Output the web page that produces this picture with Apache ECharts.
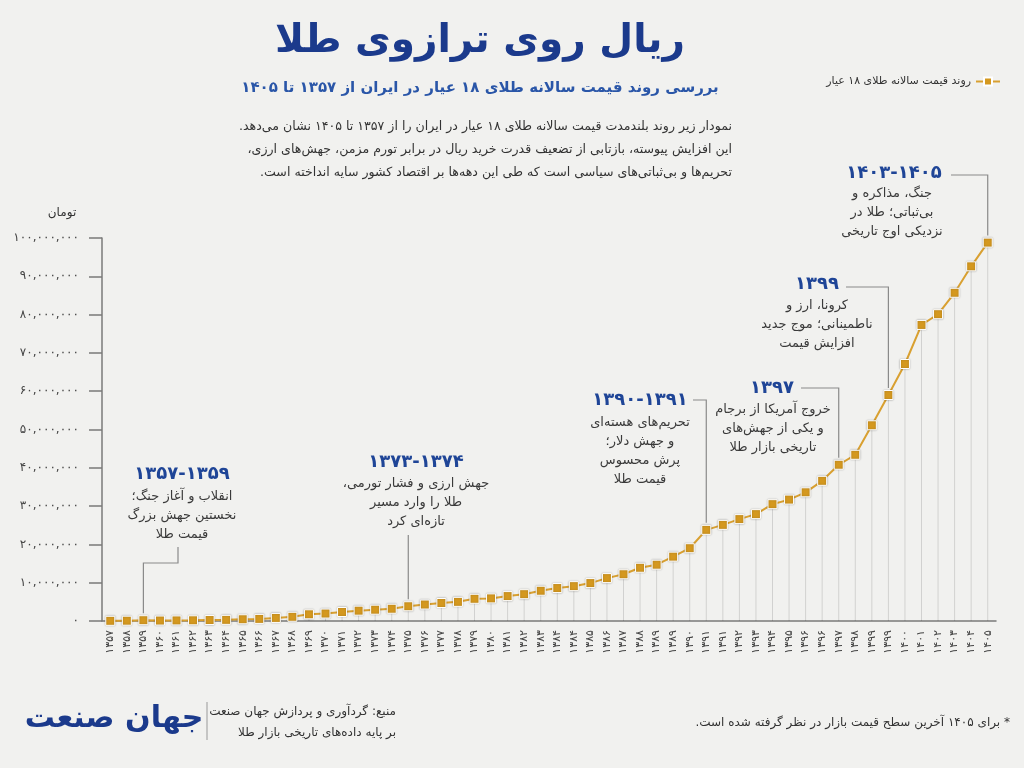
<!DOCTYPE html>
<html>
<head>
<meta charset="utf-8">
<script src="https://cdn.jsdelivr.net/npm/echarts@6/dist/echarts.min.js"></script>
<style>
  html, body { margin: 0; padding: 0; background: #f1f1ef; }
  #main { width: 1024px; height: 768px; direction: rtl; }
</style>
</head>
<body>
<div id="main"></div>
<script>
// سال‌ها همان‌طور که روی محور دیده می‌شوند
const years = [1357, 1358, 1359, 1360, 1361, 1362, 1363, 1364, 1365, 1366, 1367, 1368, 1369, 1370,
  1371, 1372, 1373, 1374, 1375, 1376, 1377, 1378, 1379, 1380, 1381, 1382, 1383,
  1384, 1384, 1385, 1386, 1387, 1388, 1389, 1389, 1390, 1391, 1391, 1392, 1393, 1394,
  1395, 1396, 1396, 1397, 1398, 1399, 1399, 1400, 1401, 1402, 1403, 1404, 1405]

// قیمت سالانه طلای ۱۸ عیار (میلیون تومان)
const priceMillion = [0.05, 0.08, 0.2, 0.12, 0.15, 0.18, 0.25, 0.3, 0.45, 0.55, 0.8, 1.1, 1.75, 1.95,
  2.35, 2.7, 2.95, 3.2, 3.85, 4.3, 4.7, 5.0, 5.8, 5.9, 6.5, 7.0, 7.9,
  8.6, 9.1, 9.9, 11.2, 12.2, 13.9, 14.7, 16.8, 19.0, 23.8, 25.1, 26.6, 27.9, 30.5,
  31.7, 33.6, 36.6, 40.8, 43.4, 51.1, 59.0, 67.1, 77.3, 80.1, 85.7, 92.6, 98.8]

const yTicks = {min: 0, max: 100000000, interval: 10000000}

// رویدادها: اندیس نقطه، عنوان، متن
const eventIdx = [2, 18, 36, 44, 47, 53]
const eventYears = ['۱۳۵۷-۱۳۵۹', '۱۳۷۳-۱۳۷۴', '۱۳۹۰-۱۳۹۱', '۱۳۹۷', '۱۳۹۹', '۱۴۰۳-۱۴۰۵']
const eventTexts = [
  'انقلاب و آغاز جنگ؛\nنخستین جهش بزرگ\nقیمت طلا',
  'جهش ارزی و فشار تورمی،\nطلا را وارد مسیر\nتازه‌ای کرد',
  'تحریم‌های هسته‌ای\nو جهش دلار؛\nپرش محسوس\nقیمت طلا',
  'خروج آمریکا از برجام\nو یکی از جهش‌های\nتاریخی بازار طلا',
  'کرونا، ارز و\nناطمینانی؛ موج جدید\nافزایش قیمت',
  'جنگ، مذاکره و\nبی‌ثباتی؛ طلا در\nنزدیکی اوج تاریخی'
]

const seriesName = 'روند قیمت سالانه طلای ۱۸ عیار'
const FONT = '"DejaVu Sans", sans-serif'
const gold = '#d4981f'
const navy = '#1b3a8c'
const blue = '#1f4597'

const toFa = s => String(s).replace(/\d/g, d => '۰۱۲۳۴۵۶۷۸۹'[d])
const ltr = s => '\u202A' + s + '\u202C'
const prices = priceMillion.map(v => Math.round(v * 1000000))

function txt(text, x, y, font, fill, align, vAlign, lineHeight) {
  return {
    type: 'text', silent: true, z: 10,
    style: {
      text: text, x: x, y: y, font: font, fill: fill,
      align: align || 'center', textAlign: align || 'center',
      verticalAlign: vAlign || 'middle', textVerticalAlign: vAlign || 'middle',
      lineHeight: lineHeight
    }
  }
}

const myChart = echarts.init(document.getElementById('main'))

const option = {
  backgroundColor: '#f1f1ef',
  animation: false,
  textStyle: {fontFamily: FONT},
  legend: {
    data: [seriesName],
    right: 18, top: 71,
    align: 'right',
    itemWidth: 24, itemHeight: 10,
    textStyle: {fontSize: 11, color: '#333', fontFamily: FONT}
  },
  grid: {left: 102, right: 28, top: 238, bottom: 147},
  xAxis: {
    type: 'category',
    data: years,
    axisLine: {lineStyle: {color: '#7a7a7a', width: 1.5}},
    axisTick: {show: false},
    axisLabel: {
      rotate: 90, interval: 0, margin: 9,
      fontSize: 11, color: '#444', fontFamily: FONT,
      formatter: v => toFa(v)
    }
  },
  yAxis: {
    type: 'value',
    min: yTicks.min, max: yTicks.max, interval: yTicks.interval,
    splitLine: {show: false},
    axisLine: {show: true, lineStyle: {color: '#7a7a7a', width: 1.5}},
    axisTick: {show: true, length: 13, lineStyle: {color: '#7a7a7a', width: 1.5}},
    axisLabel: {
      margin: 23, fontSize: 12, color: '#444', fontFamily: FONT,
      formatter: v => toFa(v.toLocaleString('en-US'))
    }
  },
  series: [
    {
      // خطوط عمودی کم‌رنگ زیر هر نقطه
      type: 'bar',
      data: prices,
      barWidth: 1,
      silent: true,
      itemStyle: {color: 'rgba(0,0,0,0.13)'},
      z: 1
    },
    {
      name: seriesName,
      type: 'line',
      data: prices,
      symbol: 'rect',
      symbolSize: 9,
      lineStyle: {color: '#d9a030', width: 2},
      itemStyle: {color: gold, borderColor: '#fff', borderWidth: 1, shadowBlur: 2, shadowColor: 'rgba(0,0,0,0.25)'},
      z: 3
    }
  ]
}

myChart.setOption(option)

// جای متن رویدادها (چیدمان)
const labelPos = [
  {x: 182, y: 474, lx: 182, ly: 516, hook: [[178, 547], [178, 563]]},
  {x: 416, y: 462, lx: 416, ly: 503, hook: [[0, 535]]},
  {x: 640, y: 400, lx: 640, ly: 451, hook: [[693, 400]]},
  {x: 772, y: 388, lx: 773, ly: 429, hook: [[801, 388]]},
  {x: 817, y: 284, lx: 817, ly: 325, hook: [[846, 287]]},
  {x: 894, y: 173, lx: 892, ly: 213, hook: [[951, 175]]}
]

const graphics = [
  txt('ریال روی ترازوی طلا', 480, 42, '900 39px ' + FONT, navy),
  txt('بررسی روند قیمت سالانه طلای ۱۸ عیار در ایران از ۱۳۵۷ تا ۱۴۰۵', 480, 88, 'bold 15px ' + FONT, '#2a56a8'),
  txt('نمودار زیر روند بلندمدت قیمت سالانه طلای ۱۸ عیار در ایران را از ۱۳۵۷ تا ۱۴۰۵ نشان می‌دهد.\n' +
      'این افزایش پیوسته، بازتابی از تضعیف قدرت خرید ریال در برابر تورم مزمن، جهش‌های ارزی،\n' +
      'تحریم‌ها و بی‌ثباتی‌های سیاسی است که طی این دهه‌ها بر اقتصاد کشور سایه انداخته است.',
      732, 150, '12.6px ' + FONT, '#333', 'right', 'middle', 23),
  txt('تومان', 62, 213, '12px ' + FONT, '#333'),
  txt('جهان صنعت', 114, 719, '900 30px ' + FONT, navy),
  {type: 'line', silent: true, shape: {x1: 207, y1: 702, x2: 207, y2: 740}, style: {stroke: '#999', lineWidth: 1}},
  txt('منبع: گردآوری و پردازش جهان صنعت\nبر پایه داده‌های تاریخی بازار طلا', 396, 722, '12px ' + FONT, '#333', 'right', 'middle', 21),
  txt('* برای ۱۴۰۵ آخرین سطح قیمت بازار در نظر گرفته شده است.', 1010, 723, '12px ' + FONT, '#333', 'right')
]

eventIdx.forEach((idx, i) => {
  const p = labelPos[i]
  const pt = myChart.convertToPixel({gridIndex: 0}, [idx, prices[idx]])
  graphics.push(txt(ltr(eventYears[i]), p.x, p.y, 'bold 18px ' + FONT, blue))
  graphics.push(txt(eventTexts[i], p.lx, p.ly, '13px ' + FONT, '#3a3a3a', 'center', 'middle', 19))
  let pts
  if (p.hook.length === 1 && p.hook[0][0] === 0) {
    pts = [[pt[0], p.hook[0][1]], [pt[0], pt[1] - 7]]
  } else if (p.hook.length === 2) {
    pts = [p.hook[0], p.hook[1], [pt[0], p.hook[1][1]], [pt[0], pt[1] - 7]]
  } else {
    pts = [p.hook[0], [pt[0], p.hook[0][1]], [pt[0], pt[1] - 7]]
  }
  graphics.push({
    type: 'polyline', silent: true, z: 9,
    shape: {points: pts},
    style: {stroke: '#8a8a8a', lineWidth: 1.2, fill: null}
  })
})

myChart.setOption({graphic: graphics})
</script>
</body>
</html>
